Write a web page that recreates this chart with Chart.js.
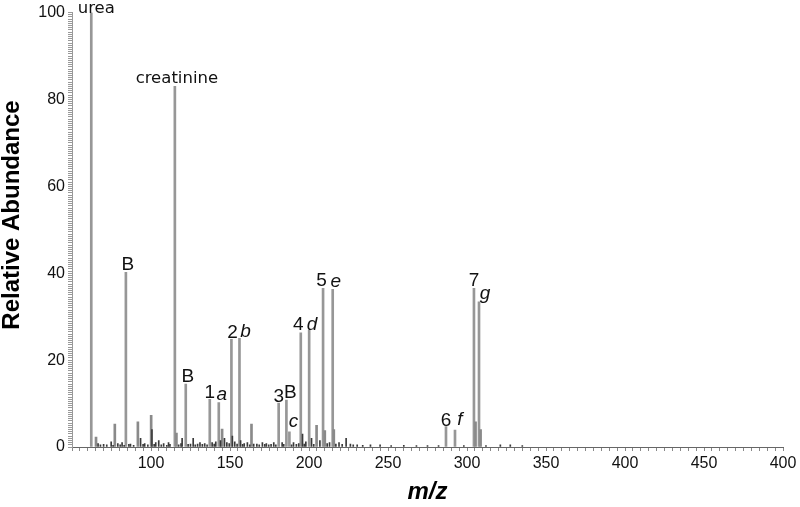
<!DOCTYPE html>
<html>
<head>
<meta charset="utf-8">
<script src="https://cdn.jsdelivr.net/npm/chart.js@4.4.1/dist/chart.umd.min.js"></script>
<style>
  html, body { margin: 0; padding: 0; background: #ffffff; }
</style>
</head>
<body>
<canvas id="spectrum" width="800" height="507"></canvas>
<script>
// Labelled peaks (m/z, relative abundance, annotation)
const labelledMz    = [62.2, 84.1, 115.1, 122.0, 137.2, 142.9, 150.9, 156.0, 180.8, 185.7, 187.6, 194.8, 200.1, 208.9, 215.0, 286.7, 292.4, 304.4, 307.6];
const labelledAbund = [100, 40.2, 83, 14.5, 11, 10.2, 24.8, 25, 10.1, 10.8, 3.5, 26.3, 26.9, 36.5, 36.3, 4.7, 3.9, 36.5, 33.4];
const labelledText  = ['urea', 'B', 'creatinine', 'B', '1', 'a', '2', 'b', '3', 'B', 'c', '4', 'd', '5', 'e', '6', 'f', '7', 'g'];

// Other visible peaks without annotation
const minorMz    = [65.2, 77.1, 91.7, 100.1, 116.1, 145.0, 163.6, 204.8, 210.0, 215.7, 305.4, 308.6];
const minorAbund = [2.3, 5.3, 5.8, 7.3, 3.2, 4.1, 5.3, 5.0, 3.8, 4.0, 5.8, 4.0];

// Baseline noise
const noiseMz    = [66.5, 68, 70, 72, 74.8, 76, 79, 80.5, 81.7, 83, 86, 87, 89, 93.4, 95, 96, 98, 100.6, 102, 103, 104.9, 106.5, 108, 110, 111.1, 112, 117.5, 119, 119.7, 123.5, 125, 126.7, 128, 129.5, 131, 132.5, 134, 135.5, 138.7, 140, 141, 144, 146.5, 148, 149.5, 151.5, 153, 154.5, 156.7, 158, 159, 161, 162.5, 165, 167, 168.5, 170.5, 172, 173, 174.5, 176, 177.7, 179, 183, 184, 189, 190.2, 192, 193.5, 195.9, 197, 198, 201.6, 203, 206.9, 211.5, 213, 217, 219, 221, 223.5, 226.2, 228, 230.5, 234, 238.9, 245, 252, 260, 268, 275, 282, 298, 312, 321.1, 327.4, 335];
const noiseAbund = [0.8, 0.5, 0.6, 0.5, 1.2, 0.4, 0.8, 0.5, 1.0, 0.4, 0.6, 0.7, 0.4, 2.0, 0.6, 0.8, 0.5, 4.0, 0.6, 1.0, 1.5, 0.5, 0.8, 0.4, 1.0, 0.6, 0.5, 0.8, 2.0, 0.6, 0.7, 2.0, 0.5, 0.7, 1.0, 0.6, 0.8, 0.5, 1.0, 0.7, 1.2, 1.5, 2.0, 1.0, 0.8, 2.5, 1.2, 0.7, 1.5, 0.6, 0.8, 1.0, 0.5, 0.7, 0.7, 0.5, 1.0, 0.6, 0.8, 0.5, 0.6, 1.0, 0.5, 1.0, 0.6, 0.5, 1.0, 0.6, 0.8, 3.0, 0.7, 1.2, 2.0, 0.6, 1.5, 0.8, 1.0, 0.7, 1.0, 0.6, 2.0, 0.7, 0.5, 0.5, 0.4, 0.5, 0.5, 0.3, 0.4, 0.3, 0.3, 0.3, 0.3, 0.3, 0.5, 0.5, 0.3];

// Axis ticks
const xTickValues = [100, 150, 200, 250, 300, 350, 400, 450, 500];
const xTickText   = ['100', '150', '200', '250', '300', '350', '400', '450', '400'];
const yTickValues = [0, 20, 40, 60, 80, 100];

// label placement tweaks, px (dx, dy) per labelled peak
const labelNudge = [[5, 0], [2, -2], [2, -3], [2, -2], [0, -1], [3, -3], [1, -1], [6, -1], [0, -1], [4, -2],
                    [4, -5], [-2.5, -2.5], [3, 0], [-1.5, -2], [3, -2.5], [0, -1], [5, -5], [0, -2], [6, -3]];

function labelFont(txt) {
    if (txt.length > 1) return '16.5px "DejaVu Sans"';
    if (/^[a-g]$/.test(txt)) return 'italic 19px "Liberation Sans"';
    return '19px "Liberation Sans"';
}

const peakLabels = {
    id: 'peakLabels',
    afterDatasetsDraw(chart) {
        const { ctx, scales: { x, y } } = chart;
        ctx.save();
        ctx.fillStyle = '#111';
        ctx.textAlign = 'center';
        ctx.textBaseline = 'alphabetic';
        labelledText.forEach((txt, i) => {
            const n = labelNudge[i] || [0, -2];
            ctx.font = labelFont(txt);
            ctx.fillText(txt, x.getPixelForValue(labelledMz[i]) + n[0], y.getPixelForValue(labelledAbund[i]) + n[1]);
        });
        // y axis title (sits a bit above the plot centre in the original)
        ctx.translate(12, 215);
        ctx.rotate(-Math.PI / 2);
        ctx.font = 'bold 24px "Liberation Sans"';
        ctx.textBaseline = 'middle';
        ctx.fillStyle = '#000';
        ctx.fillText('Relative Abundance', 0, 0);
        ctx.restore();
    }
};

const toPoints = (xs, ys) => xs.map((v, i) => ({ x: v, y: ys[i] }));

new Chart(document.getElementById('spectrum'), {
    type: 'bar',
    data: {
        datasets: [
            {
                label: 'noise',
                data: toPoints(noiseMz, noiseAbund),
                backgroundColor: '#3a3a3a',
                barThickness: 1,
                grouped: false
            },
            {
                label: 'minor',
                data: toPoints(minorMz, minorAbund),
                backgroundColor: '#8a8a8a',
                barThickness: 2,
                grouped: false
            },
            {
                label: 'peaks',
                data: toPoints(labelledMz, labelledAbund),
                backgroundColor: '#979797',
                barThickness: 2,
                grouped: false
            }
        ]
    },
    options: {
        responsive: false,
        animation: false,
        layout: { padding: { left: 0, right: 17, top: 12, bottom: 0 } },
        plugins: {
            legend: { display: false },
            tooltip: { enabled: false }
        },
        scales: {
            x: {
                type: 'linear',
                min: 50,
                max: 500,
                offset: false,
                afterFit(scale) { scale.height = 60; },
                afterBuildTicks(scale) {
                    const t = [];
                    for (let v = 50; v <= 500; v += 5) t.push({ value: v });
                    scale.ticks = t;
                },
                ticks: {
                    autoSkip: false,
                    maxRotation: 0,
                    padding: 3,
                    color: '#111',
                    font: { family: '"Liberation Sans"', size: 16 },
                    callback(value) {
                        const i = xTickValues.indexOf(value);
                        return i >= 0 ? xTickText[i] : '';
                    }
                },
                grid: { drawOnChartArea: false, drawTicks: true, tickLength: 4, color: '#888', offset: false },
                border: { display: true, color: '#666', width: 1 },
                title: {
                    display: true,
                    text: 'm/z',
                    color: '#000',
                    padding: { top: 0, bottom: 3 },
                    font: { family: '"Liberation Sans"', size: 24, weight: 'bold', style: 'italic', lineHeight: 1 }
                }
            },
            y: {
                min: 0,
                max: 100,
                afterFit(scale) { scale.width = 72; },
                afterBuildTicks(scale) {
                    const t = [];
                    for (let v = 0; v <= 100; v += 0.5) t.push({ value: v });
                    scale.ticks = t;
                },
                ticks: {
                    autoSkip: false,
                    padding: 3,
                    color: '#111',
                    font: { family: '"Liberation Sans"', size: 16 },
                    callback(value) {
                        return yTickValues.includes(value) ? String(value) : '';
                    }
                },
                grid: { drawOnChartArea: false, drawTicks: true, tickLength: 4, color: '#999' },
                border: { display: true, color: '#999', width: 1 }
            }
        }
    },
    plugins: [peakLabels]
});
</script>
</body>
</html>
